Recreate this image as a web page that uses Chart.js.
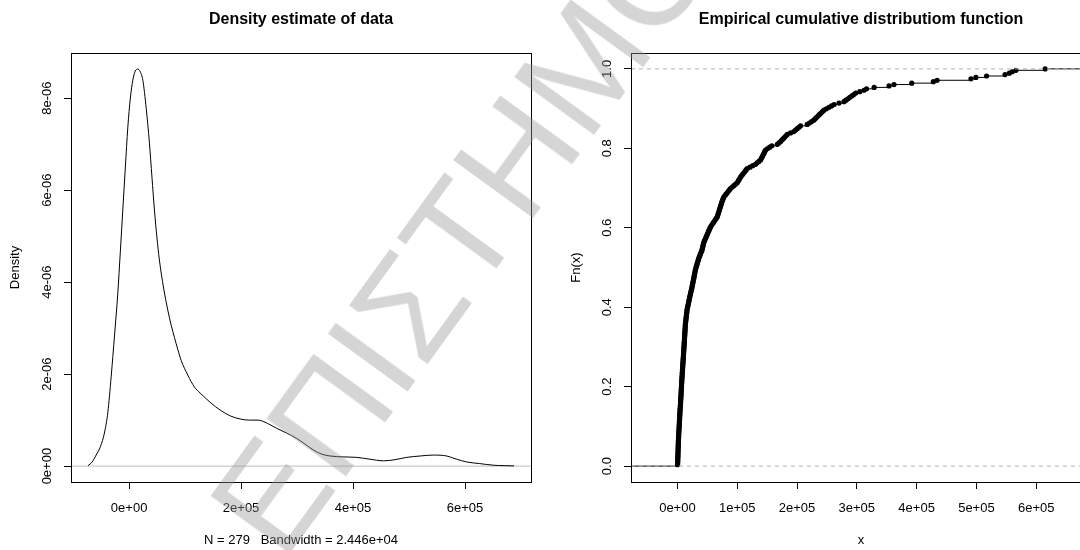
<!DOCTYPE html>
<html>
<head>
<meta charset="utf-8">
<script src="https://cdn.jsdelivr.net/npm/chart.js@4/dist/chart.umd.min.js"></script>
<style>
  html, body { margin: 0; padding: 0; background: #fff; }
  #stage { position: relative; width: 1080px; height: 550px; overflow: hidden; background: #fff; }
  #densityCanvas { position: absolute; left: 0; top: 0; }
  #ecdfCanvas { position: absolute; left: 540px; top: 0; }
  #mark {
    position: absolute; left: 0; top: 0; white-space: nowrap;
    font-family: "Liberation Sans", Arial, sans-serif; font-size: 143px; line-height: 1;
    color: rgba(150,150,150,0.4); pointer-events: none;
    transform-origin: 0 0;
    transform: translate(283px, 563px) rotate(-54deg) translate(0, -121px);
  }
</style>
</head>
<body>
<div id="stage">
  <canvas id="densityCanvas" width="540" height="550"></canvas>
  <canvas id="ecdfCanvas" width="560" height="550"></canvas>
  <div id="mark">ΕΠΙΣΤΗΜΟΝΙΚΟ</div>
</div>
<script>
// ---- kernel density estimate (N = 279, bw = 2.446e+04) ----
const densityX = [-73400, -66000, -58900, -51000, -44100, -38000, -32100, -26000, -20200, -15500,
  -11300, -6800, -2300, 2200, 6600, 11000, 15500, 20000, 24500, 30500,
  36300, 40800, 45200, 49600, 54100, 61600, 69100, 75000, 80900, 86900,
  92900, 104800, 116600, 126800, 146400, 162500, 181000, 200000, 215000, 230000,
  247000, 263800, 281000, 299500, 314000, 329100, 344000, 358900, 382000, 406600,
  430000, 454100, 475000, 495900, 520000, 543400, 567300, 585000, 603000, 626000,
  650500, 670000, 687400];
// density in units of 1e-06
const densityY = [0.01, 0.09, 0.24, 0.43, 0.72, 1.17, 1.94, 2.85, 3.76, 4.70,
  5.57, 6.48, 7.37, 8.00, 8.39, 8.59, 8.63, 8.57, 8.39, 7.78,
  7.02, 6.28, 5.57, 4.98, 4.48, 3.87, 3.39, 3.07, 2.80, 2.54,
  2.30, 1.98, 1.72, 1.59, 1.37, 1.22, 1.09, 1.02, 1.00, 1.00,
  0.93, 0.82, 0.72, 0.60, 0.48, 0.35, 0.26, 0.22, 0.20, 0.19,
  0.15, 0.115, 0.14, 0.19, 0.22, 0.24, 0.22, 0.15, 0.09, 0.055,
  0.02, 0.01, 0.005];

const densityXTicks = [0, 200000, 400000, 600000];
const densityXTickLabels = ['0e+00', '2e+05', '4e+05', '6e+05'];
const densityYTicks = [0, 2e-6, 4e-6, 6e-6, 8e-6];
const densityYTickLabels = ['0e+00', '2e-06', '4e-06', '6e-06', '8e-06'];
const densityXRange = [-103800, 717800];
const densityYRange = [-0.3454e-6, 8.9805e-6];

// ---- sorted observations for the empirical CDF ----
const ecdfX = [
  310, 405, 512, 598, 684, 741, 836, 902, 985, 1046, 1148, 1195, 1302, 1368, 1455, 1534, 1641, 1703, 1828, 1917, 2064,
  2183, 2296, 2452, 2571, 2698, 2839, 2948, 3091, 3207, 3362, 3478, 3611, 3734, 3869, 4002, 4128, 4266, 4391, 4532, 4689, 4871,
  5084, 5219, 5347, 5482, 5611, 5750, 5889, 6013, 6142, 6288, 6409, 6551, 6688, 6812, 6946, 7083, 7215, 7349, 7480, 7622, 7801,
  7954, 8121, 8263, 8419, 8577, 8730, 8886, 9042, 9197, 9353, 9512, 9668, 9821, 9977, 10134, 10290, 10447, 10612,
  10738, 10911, 11032, 11207, 11351, 11478, 11652, 11779, 11940, 12066, 12231, 12388, 12509, 12674, 12803, 12977, 13098, 13262, 13415,
  13684, 13990, 14233, 14547, 14805, 15112, 15360, 15671, 15917, 16220,
  16703, 17248, 17731, 18269, 18744, 19293, 19770, 20312, 20789, 21336, 21807,
  22391, 22918, 23522, 24037, 24625,
  25058, 25549, 25971, 26468, 26893, 27392, 27821, 28310, 28744, 29238, 29662, 30157,
  30822, 31563, 32231, 32968, 33627, 34365, 35033, 35741,
  36628, 37602, 38497, 39463, 40355, 41332,
  41837, 42408, 42911, 43489, 44005,
  45072, 46055, 47133, 48118, 49187, 50176, 51254, 52229, 53301, 54278, 55352,
  56907, 58556, 60104, 61758, 63297, 64947, 66498,
  67291, 68009, 68803, 69518, 70314, 71016, 71822, 72528, 73324, 74037, 74833,
  75718, 76704, 77589,
  79512, 81326, 83238, 85057, 86979, 88797,
  91631, 94377, 97228, 99985,
  101406, 102738, 104157, 105488,
  107398, 109215, 111127, 112936, 114858, 116674,
  121352, 125937, 130628,
  133378, 136227, 138986,
  140234, 141388, 142637, 143789, 145036, 146188, 147426,
  150876, 154423, 157974,
  167021, 169774, 172527,
  174718, 177003, 179197, 181488, 183676,
  189227, 194673,
  197554, 200327, 203206, 205974,
  217026,
  220674, 224328, 227971,
  230457, 232834, 235318, 237685, 240169, 242541, 245028,
  249226, 253527, 257724, 262031,
  270223, 278531,
  281774, 285129, 288372, 291728, 294976,
  298140, 304870, 311920, 316230, 328950, 353880, 362140, 391870, 427960, 434210,
  490870, 499130, 516940, 547860, 555120, 559870, 566130, 614920
];

const ecdfXTicks = [0, 100000, 200000, 300000, 400000, 500000, 600000];
const ecdfXTickLabels = ['0e+00', '1e+05', '2e+05', '3e+05', '4e+05', '5e+05', '6e+05'];
const ecdfYTicks = [0, 0.2, 0.4, 0.6, 0.8, 1.0];
const ecdfYTickLabels = ['0.0', '0.2', '0.4', '0.6', '0.8', '1.0'];
const ecdfXRange = [-77600, 691600];
const ecdfYRange = [-0.04, 1.04];

// ---- shared look ----
const FONT = '"Liberation Sans", Arial, Helvetica, sans-serif';
Chart.defaults.font.family = FONT;
Chart.defaults.font.size = 13;
Chart.defaults.color = '#000';

// plain box around the plotting region
const plotFrame = {
  id: 'plotFrame',
  afterDatasetsDraw(chart) {
    const { ctx, chartArea: a } = chart;
    ctx.save();
    ctx.strokeStyle = '#000';
    ctx.lineWidth = 1;
    ctx.strokeRect(Math.round(a.left) + 0.5, Math.round(a.top) + 0.5,
                   Math.round(a.right - a.left), Math.round(a.bottom - a.top));
    ctx.restore();
  }
};

function tickGrid() {
  return { display: true, drawOnChartArea: false, drawTicks: true, tickLength: 7,
           color: '#000', tickColor: '#000', lineWidth: 1 };
}

function fixedTicks(values) {
  return scale => { scale.ticks = values.map(v => ({ value: v })); };
}

function baseOptions(titleText) {
  return {
    responsive: false,
    animation: false,
    devicePixelRatio: 1,
    layout: { padding: { left: 0, right: 9, top: 0, bottom: 0 } },
    plugins: {
      legend: { display: false },
      tooltip: { enabled: false },
      title: {
        display: true, text: titleText, fullSize: false, color: '#000',
        font: { size: 16, weight: 'bold' },
        padding: { top: 10.4, bottom: 23.4 }
      }
    }
  };
}

// ---- left panel: density ----
const densityOpts = baseOptions('Density estimate of data');
densityOpts.scales = {
  x: {
    type: 'linear', min: densityXRange[0], max: densityXRange[1],
    afterBuildTicks: fixedTicks(densityXTicks),
    afterFit: s => { s.height = 68; },
    grid: tickGrid(), border: { display: false },
    ticks: { padding: 11.2, maxRotation: 0, autoSkip: false,
             callback: (v, i) => densityXTickLabels[i] },
    title: { display: true, text: 'N = 279   Bandwidth = 2.446e+04',
             font: { size: 13 }, padding: { top: 0, bottom: 1.7 } }
  },
  y: {
    type: 'linear', min: densityYRange[0], max: densityYRange[1],
    afterBuildTicks: fixedTicks(densityYTicks),
    afterFit: s => { s.width = 71; },
    grid: tickGrid(), border: { display: false },
    ticks: { minRotation: 90, maxRotation: 90, crossAlign: 'center', padding: -2,
             autoSkip: false, callback: (v, i) => densityYTickLabels[i] },
    title: { display: true, text: 'Density', font: { size: 13 },
             padding: { top: 7.6, bottom: 0 } }
  }
};

new Chart(document.getElementById('densityCanvas'), {
  type: 'line',
  data: {
    datasets: [
      {
        label: 'density',
        data: densityX.map((x, i) => ({ x: x, y: densityY[i] * 1e-6 })),
        borderColor: '#000', borderWidth: 1, pointRadius: 0,
        cubicInterpolationMode: 'monotone', fill: false, order: 0
      },
      {
        label: 'zero',
        data: [{ x: densityXRange[0], y: 0 }, { x: densityXRange[1], y: 0 }],
        borderColor: '#bebebe', borderWidth: 1, pointRadius: 0, fill: false, order: 1
      }
    ]
  },
  options: densityOpts,
  plugins: [plotFrame]
});

// ---- right panel: empirical CDF ----
const n = ecdfX.length;
const ecdfPoints = ecdfX.map((x, i) => ({ x: x, y: (i + 1) / n }));

// horizontal pieces of the step function (no verticals)
const stepPieces = [{ x: ecdfXRange[0], y: 0 }, { x: ecdfX[0], y: 0 }, { x: ecdfX[0], y: null }];
ecdfX.forEach((x, i) => {
  const level = (i + 1) / n;
  const next = i < n - 1 ? ecdfX[i + 1] : ecdfXRange[1];
  stepPieces.push({ x: x, y: level }, { x: next, y: level }, { x: next, y: null });
});

const refLines = [
  { x: ecdfXRange[0], y: 0 }, { x: ecdfXRange[1], y: 0 }, { x: ecdfXRange[1], y: null },
  { x: ecdfXRange[0], y: 1 }, { x: ecdfXRange[1], y: 1 }
];

const ecdfOpts = baseOptions('Empirical cumulative distributiom function');
ecdfOpts.scales = {
  x: {
    type: 'linear', min: ecdfXRange[0], max: ecdfXRange[1],
    afterBuildTicks: fixedTicks(ecdfXTicks),
    afterFit: s => { s.height = 68; },
    grid: tickGrid(), border: { display: false },
    ticks: { padding: 11.2, maxRotation: 0, autoSkip: false,
             callback: (v, i) => ecdfXTickLabels[i] },
    title: { display: true, text: 'x', font: { size: 13 },
             padding: { top: 0, bottom: 1.7 } }
  },
  y: {
    type: 'linear', min: ecdfYRange[0], max: ecdfYRange[1],
    afterBuildTicks: fixedTicks(ecdfYTicks),
    afterFit: s => { s.width = 91; },
    grid: tickGrid(), border: { display: false },
    ticks: { minRotation: 90, maxRotation: 90, crossAlign: 'center', padding: 7.4,
             autoSkip: false, callback: (v, i) => ecdfYTickLabels[i] },
    title: { display: true, text: 'Fn(x)', font: { size: 13 },
             padding: { top: 28.2, bottom: 0 } }
  }
};

new Chart(document.getElementById('ecdfCanvas'), {
  type: 'line',
  data: {
    datasets: [
      {
        label: 'reference levels',
        data: refLines,
        borderColor: '#b3b3b3', borderWidth: 1, borderDash: [4, 4],
        pointRadius: 0, spanGaps: false, fill: false, order: 0
      },
      {
        label: 'Fn(x)',
        data: ecdfPoints,
        showLine: false, pointRadius: 2.6, pointBorderWidth: 0,
        pointBackgroundColor: '#000', pointBorderColor: '#000', order: 1
      },
      {
        label: 'steps',
        data: stepPieces,
        borderColor: '#000', borderWidth: 1, pointRadius: 0,
        spanGaps: false, fill: false, order: 2
      }
    ]
  },
  options: ecdfOpts,
  plugins: [plotFrame]
});
</script>
</body>
</html>
